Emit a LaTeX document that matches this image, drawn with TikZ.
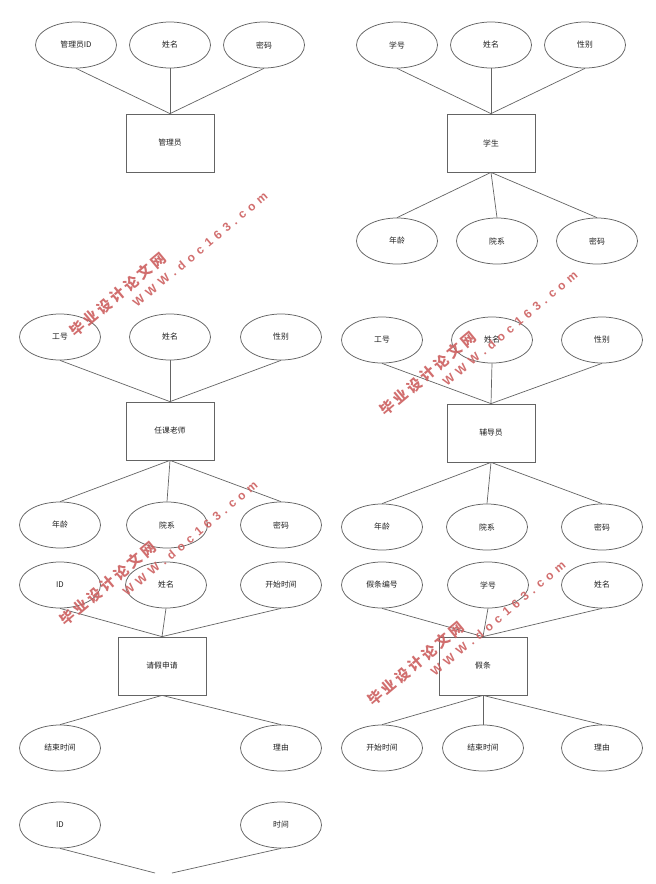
\documentclass[tikz,border=0pt]{standalone}
\usepackage{fontspec}
\setmainfont{Liberation Sans}
\newfontfamily\cjk{Noto Sans CJK SC}
\usetikzlibrary{shapes.geometric}
\definecolor{linegray}{RGB}{100,100,100}
\definecolor{textc}{RGB}{30,30,30}
\definecolor{wmred}{RGB}{205,95,95}
\newcommand\ws{\hspace{5pt}}
\newcommand\zs{\hspace{3.2pt}}
\tikzset{
  attr/.style={ellipse, draw=linegray, line width=0.75pt, minimum width=81pt, minimum height=46pt, inner sep=0pt, font=\cjk\fontsize{7.8}{8}\selectfont, text=textc},
  ent/.style={rectangle, draw=linegray, line width=0.75pt, minimum width=88pt, minimum height=58pt, inner sep=0pt, font=\cjk\fontsize{7.8}{8}\selectfont, text=textc},
  link/.style={draw=linegray, line width=0.7pt},
  wmzh/.style={anchor=base west, rotate=40, inner sep=0pt, text=wmred, opacity=0.9, font=\cjk\bfseries\fontsize{14.5}{15}\selectfont},
  wmen/.style={anchor=base west, rotate=40, inner sep=0pt, text=wmred, opacity=0.9, font=\bfseries\fontsize{12}{13}\selectfont}
}
\newcommand\wmark[3]{%
  \begin{scope}[shift={(#1,#2)}]
    \node[wmzh] (#3zh) at (0,0) {毕\zs 业\zs 设\zs 计\zs 论\zs 文\zs 网};
    \node[wmen] (#3en) at (62,-30) {W\ws W\ws W\ws .\ws d\ws o\ws c\ws 1\ws 6\ws 3\ws .\ws c\ws o\ws m};
  \end{scope}}
\begin{document}
\begin{tikzpicture}[x=1pt,y=-1pt]
\useasboundingbox (0,0) rectangle (656,884);
\fill[white] (0,0) rectangle (656,884);

% 管理员
\node[ent] (e1) at (170,143) {管理员};
\node[attr] (a11) at (76,45) {管理员ID};
\node[attr] (a12) at (170,45) {姓名};
\node[attr] (a13) at (264,45) {密码};
\foreach \n in {a11,a12,a13} \draw[link] (\n.south) -- (e1.north);

% 学生
\node[ent] (e2) at (491,143) {学生};
\node[attr] (a21) at (397,45) {学号};
\node[attr] (a22) at (491,45) {姓名};
\node[attr] (a23) at (585,45) {性别};
\node[attr] (b21) at (397,241) {年龄};
\node[attr] (b22) at (497,241) {院系};
\node[attr] (b23) at (597,241) {密码};
\foreach \n in {a21,a22,a23} \draw[link] (\n.south) -- (e2.north);
\foreach \n in {b21,b22,b23} \draw[link] (e2.south) -- (\n.north);

% 任课老师
\node[ent] (e3) at (170,431) {任课老师};
\node[attr] (a31) at (60,337) {工号};
\node[attr] (a32) at (170,337) {姓名};
\node[attr] (a33) at (281,337) {性别};
\node[attr] (b31) at (60,525) {年龄};
\node[attr] (b32) at (167,525) {院系};
\node[attr] (b33) at (281,525) {密码};
\foreach \n in {a31,a32,a33} \draw[link] (\n.south) -- (e3.north);
\foreach \n in {b31,b32,b33} \draw[link] (e3.south) -- (\n.north);

% 辅导员
\node[ent] (e4) at (491,433) {辅导员};
\node[attr] (a41) at (382,340) {工号};
\node[attr] (a42) at (492,340) {姓名};
\node[attr] (a43) at (602,340) {性别};
\node[attr] (b41) at (382,527) {年龄};
\node[attr] (b42) at (487,527) {院系};
\node[attr] (b43) at (602,527) {密码};
\foreach \n in {a41,a42,a43} \draw[link] (\n.south) -- (e4.north);
\foreach \n in {b41,b42,b43} \draw[link] (e4.south) -- (\n.north);

% 请假申请
\node[ent] (e5) at (162,666) {请假申请};
\node[attr] (a51) at (60,585) {ID};
\node[attr] (a52) at (166,585) {姓名};
\node[attr] (a53) at (281,585) {开始时间};
\node[attr] (b51) at (60,748) {结束时间};
\node[attr] (b52) at (281,748) {理由};
\foreach \n in {a51,a52,a53} \draw[link] (\n.south) -- (e5.north);
\foreach \n in {b51,b52} \draw[link] (e5.south) -- (\n.north);

% 假条
\node[ent] (e6) at (483,666) {假条};
\node[attr] (a61) at (382,585) {假条编号};
\node[attr] (a62) at (488,585) {学号};
\node[attr] (a63) at (602,585) {姓名};
\node[attr] (b61) at (382,748) {开始时间};
\node[attr] (b62) at (483,748) {结束时间};
\node[attr] (b63) at (602,748) {理由};
\foreach \n in {a61,a62,a63} \draw[link] (\n.south) -- (e6.north);
\foreach \n in {b61,b62,b63} \draw[link] (e6.south) -- (\n.north);

% bottom (cut off)
\node[attr] (a71) at (60,825) {ID};
\node[attr] (a72) at (281,825) {时间};
\coordinate (c7l) at (155,873);
\coordinate (c7r) at (172,873);
\draw[link] (a71.south) -- (c7l);
\draw[link] (a72.south) -- (c7r);

% watermarks
\wmark{75}{338}{wa}
\wmark{385}{417}{wb}
\wmark{65}{627}{wc}
\wmark{373}{707}{wd}
\end{tikzpicture}
\end{document}
